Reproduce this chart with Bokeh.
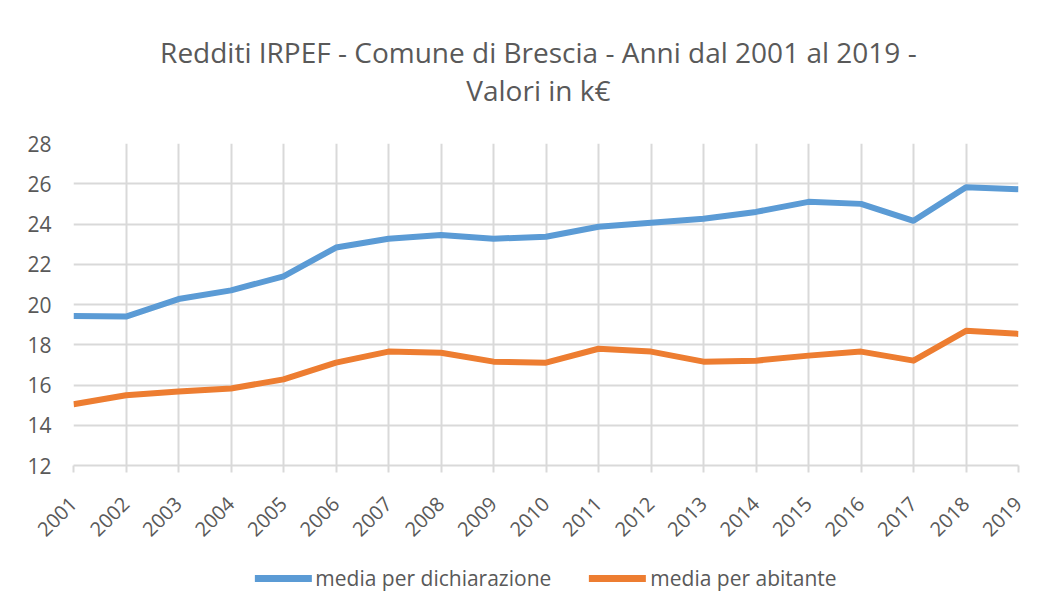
from bokeh.plotting import figure
from bokeh.models import Range1d, FixedTicker, Legend, LegendItem, Label
from bokeh.layouts import column
from bokeh.embed import file_html
from bokeh.resources import INLINE
import math

years = list(range(2001, 2020))
media_dichiarazione = [19.43, 19.40, 20.27, 20.70, 21.40, 22.83, 23.27, 23.45, 23.27, 23.37,
                       23.86, 24.06, 24.26, 24.60, 25.10, 25.00, 24.16, 25.83, 25.73]
media_abitante = [15.04, 15.49, 15.68, 15.83, 16.28, 17.11, 17.66, 17.60, 17.16, 17.11,
                  17.80, 17.66, 17.16, 17.21, 17.46, 17.66, 17.21, 18.69, 18.54]
y_ticks = [12, 14, 16, 18, 20, 22, 24, 26, 28]
series_names = ["media per dichiarazione", "media per abitante"]
series_colors = ["#5B9BD5", "#ED7D31"]
title_lines = ["Redditi IRPEF - Comune di Brescia - Anni dal 2001 al 2019 -", "Valori in k€"]

FONT = "Open Sans"
GREY = "#595959"
GRID = "#d9d9d9"
W = 1053

# ---- title strip (pixel coordinate space, y pointing down) ----
TH = 120
p0 = figure(width=W, height=TH, output_backend="svg", toolbar_location=None,
            title=None, x_axis_type=None, y_axis_type=None,
            x_range=Range1d(0, W), y_range=Range1d(TH, 0),
            min_border=0)
p0.outline_line_color = None
p0.xgrid.visible = False
p0.ygrid.visible = False
for txt, base in zip(title_lines, [51, 89]):
    p0.add_layout(Label(x=518, y=base, text=txt, text_align="center",
                        text_baseline="alphabetic", text_font=FONT,
                        text_font_size="28px", text_color=GREY))

# ---- main chart ----
p = figure(width=W, height=425, output_backend="svg", toolbar_location=None,
           title=None,
           x_range=Range1d(2001, 2019), y_range=Range1d(12, 28),
           min_border_left=73, min_border_right=35, min_border_top=23, min_border_bottom=77)

p.outline_line_color = None
p.background_fill_color = "white"
p.border_fill_color = "white"

p.xaxis.ticker = FixedTicker(ticks=years)
p.yaxis.ticker = FixedTicker(ticks=y_ticks)
p.xaxis.major_label_orientation = math.pi / 4
p.xaxis.axis_line_color = GRID
p.xaxis.axis_line_width = 2
p.xaxis.major_tick_line_color = GRID
p.xaxis.major_tick_line_width = 2
p.xaxis.major_tick_in = 0
p.xaxis.major_tick_out = 7
p.xaxis.minor_tick_line_color = None
p.xaxis.major_label_standoff = 28
p.yaxis.axis_line_color = None
p.yaxis.major_tick_line_color = None
p.yaxis.minor_tick_line_color = None
p.yaxis.major_label_standoff = 16
for ax in (p.xaxis, p.yaxis):
    ax.major_label_text_font = FONT
    ax.major_label_text_color = GREY
p.xaxis.major_label_text_font_size = "20px"
p.yaxis.major_label_text_font_size = "21px"

p.xgrid.ticker = FixedTicker(ticks=years)
p.ygrid.ticker = FixedTicker(ticks=y_ticks)
for g in (p.xgrid, p.ygrid):
    g.grid_line_color = GRID
    g.grid_line_width = 2

p.line(years, media_dichiarazione, line_color=series_colors[0], line_width=6, line_join="round")
p.line(years, media_abitante, line_color=series_colors[1], line_width=6, line_join="round")

# ---- legend strip below the chart (series drawn out of view; only the legend shows) ----
p2 = figure(width=W, height=65, output_backend="svg", toolbar_location=None,
            title=None, x_axis_type=None, y_axis_type=None,
            x_range=Range1d(2001, 2019), y_range=Range1d(0, 1),
            min_border_left=30, min_border_right=0, min_border_top=0, min_border_bottom=0)
p2.outline_line_color = None
p2.xgrid.visible = False
p2.ygrid.visible = False
lr1 = p2.line(years, media_dichiarazione, line_color=series_colors[0], line_width=7, line_cap="round")
lr2 = p2.line(years, media_abitante, line_color=series_colors[1], line_width=7, line_cap="round")
legend = Legend(items=[LegendItem(label=series_names[0], renderers=[lr1]),
                       LegendItem(label=series_names[1], renderers=[lr2])],
                orientation="horizontal", location="center",
                label_text_font=FONT, label_text_font_size="21px", label_text_color=GREY,
                glyph_width=57, glyph_height=20, spacing=38, padding=0, margin=0,
                border_line_color=None, background_fill_alpha=0, label_standoff=4)
p2.add_layout(legend, "center")

open("out.html", "w").write(file_html(column(p0, p, p2, spacing=0), INLINE))
